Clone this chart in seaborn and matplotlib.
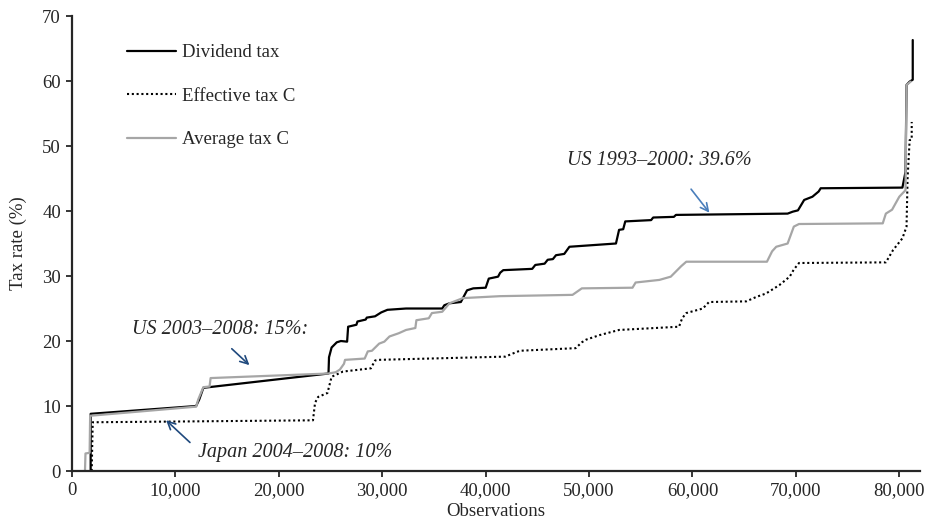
import pandas as pd
import seaborn as sns
import matplotlib.pyplot as plt
from matplotlib.ticker import FuncFormatter, MultipleLocator

div_x = [1800, 1800, 12000, 12300, 12700, 24800, 24850, 25100, 25600, 26000, 26600, 26700,
         27500, 27600, 28400, 28500, 29300, 29900, 30500, 32300, 35800, 36000, 36500, 37600,
         37800, 38200, 38800, 40000, 40300, 41200, 41400, 41700, 44500, 44800, 45700, 46000,
         46500, 46800, 47600, 48100, 52600, 52900, 53300, 53500, 56000, 56200, 58200, 58400,
         69200, 69700, 70200, 70800, 71600, 72200, 72400, 80300, 80600, 80700, 81000, 81300, 81300]
div_y = [0, 8.8, 10.0, 11.0, 12.8, 15.0, 17.5, 19.0, 19.8, 20.0, 19.9, 22.2,
         22.5, 23.0, 23.3, 23.6, 23.8, 24.4, 24.8, 25.0, 25.0, 25.5, 25.8, 26.0,
         26.6, 27.8, 28.1, 28.2, 29.6, 29.9, 30.5, 30.9, 31.1, 31.7, 31.9, 32.5,
         32.6, 33.2, 33.4, 34.5, 35.0, 37.1, 37.2, 38.4, 38.6, 39.0, 39.1, 39.4,
         39.6, 39.9, 40.1, 41.7, 42.2, 43.0, 43.5, 43.6, 46.0, 59.4, 59.9, 60.2, 66.3]

eff_x = [1900, 2000, 23300, 23500, 23800, 24700, 25100, 26200, 28900, 29300, 29600, 41900,
         42500, 43300, 48700, 49300, 49700, 51000, 52900, 58700, 59000, 59400, 61000, 61600,
         65200, 66200, 67100, 68400, 69400, 69800, 70300, 78700, 79400, 80300, 80700, 80800,
         81000, 81200, 81200]
eff_y = [0, 7.5, 7.8, 10.5, 11.4, 12.0, 14.5, 15.3, 15.8, 17.0, 17.1, 17.6,
         18.0, 18.5, 18.9, 19.8, 20.2, 20.9, 21.7, 22.2, 23.5, 24.3, 25.0, 26.0,
         26.1, 26.8, 27.3, 28.6, 29.9, 31.0, 32.0, 32.1, 34.0, 35.8, 37.6, 45.0,
         50.9, 51.0, 53.7]

avg_x = [1250, 1300, 1700, 1750, 12000, 12200, 12700, 13300, 13400, 24800, 25500, 25900,
         26300, 26400, 28300, 28600, 29000, 29700, 30200, 30700, 31600, 32300, 33200, 33300,
         34500, 34800, 35800, 36500, 37800, 41400, 48400, 49300, 54200, 54500, 56800, 57900,
         58900, 59400, 67200, 67700, 68100, 69200, 69500, 69800, 70300, 78400, 78700, 79300,
         80000, 80600, 80700, 81100]
avg_y = [0, 2.7, 2.8, 8.5, 9.9, 11.0, 12.9, 13.0, 14.3, 15.0, 15.2, 15.6,
         16.5, 17.1, 17.3, 18.4, 18.5, 19.6, 19.9, 20.7, 21.2, 21.7, 22.0, 23.2,
         23.5, 24.3, 24.5, 25.8, 26.6, 26.9, 27.1, 28.1, 28.2, 29.0, 29.4, 29.9,
         31.5, 32.2, 32.2, 33.8, 34.5, 35.0, 36.3, 37.6, 38.0, 38.1, 39.6, 40.2,
         42.2, 43.2, 59.4, 59.9]

div = pd.DataFrame({'obs': div_x, 'rate': div_y})
eff = pd.DataFrame({'obs': eff_x, 'rate': eff_y})
avg = pd.DataFrame({'obs': avg_x, 'rate': avg_y})

sns.set_style('ticks')
plt.rcParams['font.family'] = ['Liberation Serif', 'DejaVu Serif']
fs = 13.5

fig = plt.figure(figsize=(9.26, 5.23), dpi=100)
ax = fig.add_axes([0.0778, 0.0994, 0.9157, 0.87])

sns.lineplot(data=div, x='obs', y='rate', ax=ax, color='black', linewidth=1.6,
             estimator=None, sort=False, label='Dividend tax')
sns.lineplot(data=eff, x='obs', y='rate', ax=ax, color='black', linewidth=1.5,
             estimator=None, sort=False, label='Effective tax C', linestyle=(0, (1, 1.3)))
sns.lineplot(data=avg, x='obs', y='rate', ax=ax, color='#a6a6a6', linewidth=1.6,
             estimator=None, sort=False, label='Average tax C')

ax.set_xlim(0, 82000)
ax.set_ylim(0, 70)
ax.xaxis.set_major_locator(MultipleLocator(10000))
ax.yaxis.set_major_locator(MultipleLocator(10))
ax.xaxis.set_major_formatter(FuncFormatter(lambda v, p: f'{int(v):,}'))
ax.set_xlabel('Observations', fontsize=fs, labelpad=3)
ax.set_ylabel('Tax rate (%)', fontsize=fs, labelpad=11)
ax.tick_params(axis='both', labelsize=fs, length=4, width=1.3, direction='out', pad=4)

sns.despine(ax=ax)
for s in ['left', 'bottom']:
    ax.spines[s].set_linewidth(1.6)

leg = ax.legend(loc='upper left', bbox_to_anchor=(0.045, 0.975), frameon=False,
                handlelength=2.6, handletextpad=0.35, labelspacing=1.4, fontsize=fs)

# Annotations
it = dict(fontsize=14.5, style='italic')
ax.annotate('', xy=(61800, 39.4), xytext=(59700, 43.7),
            arrowprops=dict(arrowstyle='->', color='#4a7ebb', lw=1.2, mutation_scale=14))
ax.text(56800, 47.8, 'US 1993\u20132000: 39.6%', ha='center', va='center', **it)
ax.annotate('', xy=(17350, 16.0), xytext=(15250, 19.1),
            arrowprops=dict(arrowstyle='->', color='#1f497d', lw=1.2, mutation_scale=14))
ax.text(14300, 21.7, 'US 2003\u20132008: 15%:', ha='center', va='center', **it)
ax.annotate('', xy=(8900, 8.1), xytext=(11600, 4.1),
            arrowprops=dict(arrowstyle='->', color='#1f497d', lw=1.2, mutation_scale=14))
ax.text(12200, 2.8, 'Japan 2004\u20132008: 10%', ha='left', va='center', **it)

plt.savefig('out.png', dpi=100)
